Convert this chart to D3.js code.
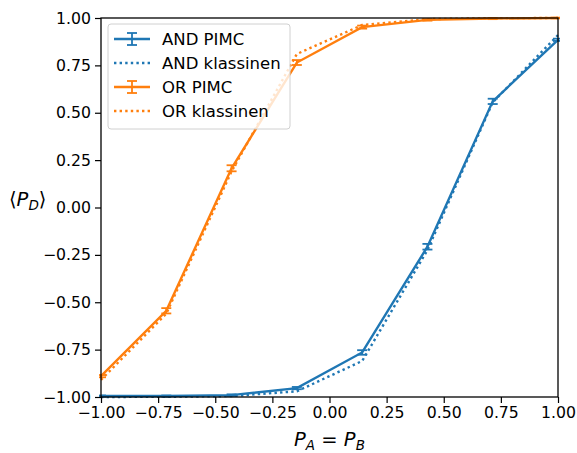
<!DOCTYPE html>
<html>
<head>
<meta charset="utf-8">
<script src="https://cdn.jsdelivr.net/npm/d3@7"></script>
<style>
  html, body { margin: 0; padding: 0; background: #fff; }
  svg { display: block; }
  text { font-family: "DejaVu Sans", sans-serif; fill: #000; }
</style>
</head>
<body>
<svg id="chart" width="577" height="453"></svg>
<script>
// Input probability P_A = P_B (8 evenly spaced points on [-1, 1])
const pValues = [-1, -5/7, -3/7, -1/7, 1/7, 3/7, 5/7, 1];

// AND gate: path-integral Monte Carlo mean and error, and classical result
const andPimc = [-0.995, -0.995, -0.99, -0.953, -0.765, -0.207, 0.56, 0.885];
const andPimcErr = [0.003, 0.003, 0.004, 0.006, 0.012, 0.015, 0.014, 0.006];
const andClassical = [-1.0, -0.999, -0.995, -0.97, -0.81, -0.225, 0.555, 0.91];

// OR gate
const orPimc = [-0.89, -0.545, 0.207, 0.765, 0.952, 0.99, 0.997, 1.0];
const orPimcErr = [0.006, 0.014, 0.016, 0.013, 0.008, 0.004, 0.003, 0.002];
const orClassical = [-0.91, -0.56, 0.19, 0.81, 0.963, 0.994, 0.999, 1.0];

const tickValues = [-1, -0.75, -0.5, -0.25, 0, 0.25, 0.5, 0.75, 1];

const seriesNames = ["AND PIMC", "AND klassinen", "OR PIMC", "OR klassinen"];
const colors = { and: "#1f77b4", or: "#ff7f0e" };

const margin = { left: 101, right: 19, top: 18, bottom: 56 };
const W = 577, H = 453;
const svg = d3.select("#chart");

const x = d3.scaleLinear().domain([-1, 1]).range([margin.left, W - margin.right]);
const y = d3.scaleLinear().domain([-1, 1]).range([H - margin.bottom, margin.top]);

const fmt = v => d3.format(".2f")(v).replace("-", "\u2212");

const clipId = "plot-clip";
svg.append("defs").append("clipPath").attr("id", clipId)
  .append("rect")
  .attr("x", x(-1) - 2).attr("y", y(1) - 2)
  .attr("width", x(1) - x(-1) + 4).attr("height", y(-1) - y(1) + 4);

const plot = svg.append("g").attr("clip-path", `url(#${clipId})`);

const line = d3.line().x(d => x(d[0])).y(d => y(d[1]));
const lw = 2.4;
const dots = "2.4,3.2";

function drawSeries(vals, color, dotted) {
  plot.append("path")
    .datum(pValues.map((p, i) => [p, vals[i]]))
    .attr("fill", "none")
    .attr("stroke", color)
    .attr("stroke-width", lw)
    .attr("stroke-dasharray", dotted ? dots : null)
    .attr("d", line);
}

function drawErrorBars(vals, errs, color) {
  const g = plot.append("g").attr("stroke", color).attr("stroke-width", 1.8);
  pValues.forEach((p, i) => {
    const cx = x(p), y0 = y(vals[i] - errs[i]), y1 = y(vals[i] + errs[i]);
    g.append("line").attr("x1", cx).attr("x2", cx).attr("y1", y0).attr("y2", y1);
    g.append("line").attr("x1", cx - 5).attr("x2", cx + 5).attr("y1", y0).attr("y2", y0);
    g.append("line").attr("x1", cx - 5).attr("x2", cx + 5).attr("y1", y1).attr("y2", y1);
  });
}

drawSeries(andPimc, colors.and, false);
drawErrorBars(andPimc, andPimcErr, colors.and);
drawSeries(andClassical, colors.and, true);
drawSeries(orPimc, colors.or, false);
drawErrorBars(orPimc, orPimcErr, colors.or);
drawSeries(orClassical, colors.or, true);

// Axes
const xAxis = d3.axisBottom(x).tickValues(tickValues).tickFormat(fmt).tickSize(6).tickPadding(4);
const yAxis = d3.axisLeft(y).tickValues(tickValues).tickFormat(fmt).tickSize(6).tickPadding(4);

const gx = svg.append("g").attr("transform", `translate(0,${y(-1)})`).call(xAxis);
const gy = svg.append("g").attr("transform", `translate(${x(-1)},0)`).call(yAxis);
[gx, gy].forEach(g => {
  g.select(".domain").remove();
  g.selectAll(".tick line").attr("stroke", "#000").attr("stroke-width", 1.2);
  g.selectAll(".tick text").attr("font-size", 15.7).attr("font-family", "DejaVu Sans");
});

// Frame
svg.append("rect")
  .attr("x", x(-1)).attr("y", y(1))
  .attr("width", x(1) - x(-1)).attr("height", y(-1) - y(1))
  .attr("fill", "none").attr("stroke", "#000").attr("stroke-width", 1.3);

// Axis titles
const xt = svg.append("text")
  .attr("x", (x(-1) + x(1)) / 2).attr("y", 446)
  .attr("text-anchor", "middle").attr("font-size", 19.5);
xt.append("tspan").attr("font-style", "italic").text("P");
xt.append("tspan").attr("font-style", "italic").attr("font-size", 13.5).attr("dy", 4).text("A");
xt.append("tspan").attr("dy", -4).text(" = ");
xt.append("tspan").attr("font-style", "italic").text("P");
xt.append("tspan").attr("font-style", "italic").attr("font-size", 13.5).attr("dy", 4).text("B");

const yt = svg.append("text")
  .attr("x", 9).attr("y", 206)
  .attr("font-size", 19.5);
yt.append("tspan").text("\u27E8");
yt.append("tspan").attr("font-style", "italic").text("P");
yt.append("tspan").attr("font-style", "italic").attr("font-size", 13.5).attr("dy", 4).text("D");
yt.append("tspan").attr("dy", -4).text("\u27E9");

// Legend
const legend = svg.append("g").attr("transform", "translate(108,24)");
legend.append("rect")
  .attr("x", 0).attr("y", 0).attr("width", 182).attr("height", 105).attr("rx", 3)
  .attr("fill", "rgba(255,255,255,0.8)").attr("stroke", "#d0d0d0").attr("stroke-width", 1);

const legendItems = [
  { name: seriesNames[0], color: colors.and, dotted: false },
  { name: seriesNames[1], color: colors.and, dotted: true },
  { name: seriesNames[2], color: colors.or, dotted: false },
  { name: seriesNames[3], color: colors.or, dotted: true }
];
legendItems.forEach((d, i) => {
  const gy0 = 15 + i * 24;
  const g = legend.append("g").attr("transform", `translate(0,${gy0})`);
  g.append("line").attr("x1", 6).attr("x2", 42).attr("y1", 0).attr("y2", 0)
    .attr("stroke", d.color).attr("stroke-width", lw)
    .attr("stroke-dasharray", d.dotted ? dots : null);
  if (!d.dotted) {
    g.append("line").attr("x1", 24).attr("x2", 24).attr("y1", -6).attr("y2", 6)
      .attr("stroke", d.color).attr("stroke-width", 1.8);
    [-6, 6].forEach(o => g.append("line").attr("x1", 19).attr("x2", 29).attr("y1", o).attr("y2", o)
      .attr("stroke", d.color).attr("stroke-width", 1.8));
  }
  g.append("text").attr("x", 54).attr("y", 6).attr("font-size", 16.5).text(d.name);
});
</script>
</body>
</html>
